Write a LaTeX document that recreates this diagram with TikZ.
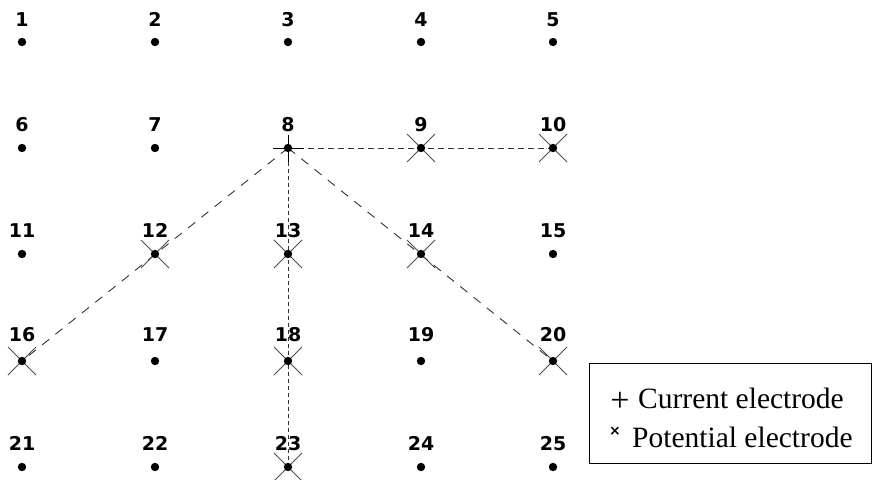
\documentclass[tikz,border=0pt]{standalone}
\usepackage{fontspec}
\setmainfont{Liberation Serif}
\newfontfamily\numfont{DejaVu Sans}
\newfontfamily\symfont{DejaVu Sans}
\begin{document}
\begin{tikzpicture}[x=1pt,y=-1pt,
  numlabel/.style={font=\numfont\fontsize{19}{19}\selectfont\bfseries, inner sep=0pt, anchor=base},
  dotmark/.style={fill=black},
  xmark/.style={draw=black!70, line width=0.9pt},
  pmark/.style={draw=black, line width=1pt},
  link/.style={draw=black!80, line width=0.9pt},
  legendtext/.style={font=\fontsize{29.5}{29.5}\selectfont, inner sep=0pt, anchor=base west}]
\useasboundingbox (0,0) rectangle (872,479);
% grid coordinates
\foreach \r/\yy/\ly in {0/42/27, 1/148/131, 2/254/237, 3/361/341, 4/467/450}{
  \foreach \c/\xx in {1/22, 2/155, 3/288, 4/421, 5/553}{
    \pgfmathtruncatemacro{\n}{\r*5+\c}
    \coordinate (p\n) at (\xx,\yy);
    \node[numlabel] (l\n) at (\xx,\ly) {\n};
  }
}
% dashed connectors
\draw[link, dash pattern=on 6pt off 4pt] (p8) -- (p10);
\draw[link, dash pattern=on 4pt off 3pt] (p8) -- (p23);
\draw[link, dash pattern=on 9pt off 8pt] (p8) -- (p16);
\draw[link, dash pattern=on 9pt off 8pt] (p8) -- (p20);
% potential electrodes (crosses)
\foreach \n in {9,10,12,13,14,16,18,20,23}{
  \draw[xmark] ([shift={(-14,-14)}]p\n) -- ([shift={(14,14)}]p\n);
  \draw[xmark] ([shift={(-14,14)}]p\n) -- ([shift={(14,-14)}]p\n);
}
% current electrode (plus)
\draw[pmark] ([shift={(-15,0)}]p8) -- ([shift={(15,0)}]p8);
\draw[pmark] ([shift={(0,-13)}]p8) -- ([shift={(0,14)}]p8);
% dots
\foreach \n in {1,...,25}{
  \fill[dotmark] (p\n) circle (4.2);
}
% legend
\node[draw=black, line width=1pt, minimum width=282pt, minimum height=100pt, inner sep=0pt] (legend) at (730,413) {};
\node[font=\fontsize{34}{34}\selectfont, inner sep=0pt] (lgplus) at (620,402) {+};
\node[legendtext] (lgcur) at (638,408) {Current electrode};
\node[font=\symfont\fontsize{14}{14}\selectfont\bfseries, inner sep=0pt] (lgx) at (615,431) {×};
\node[legendtext] (lgpot) at (632,447) {Potential electrode};
\end{tikzpicture}
\end{document}
